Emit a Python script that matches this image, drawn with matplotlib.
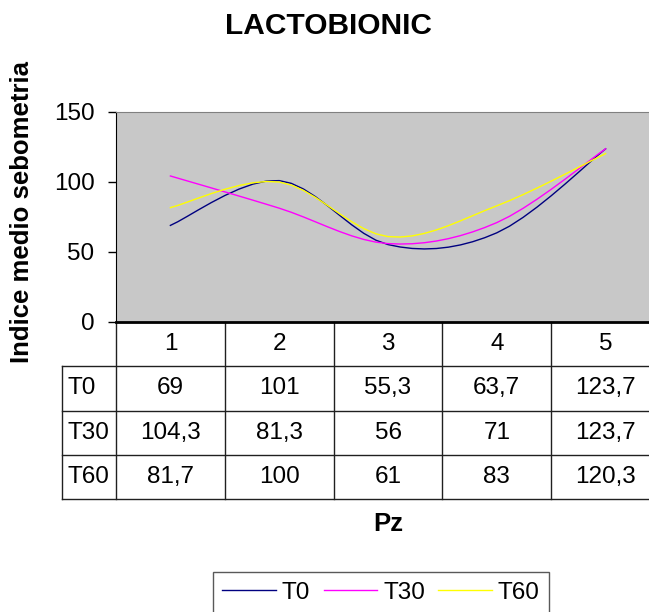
import numpy as np
import matplotlib
matplotlib.use("Agg")
import matplotlib.pyplot as plt
import matplotlib.transforms as mtransforms

plt.rcParams['font.family'] = ['Liberation Sans', 'DejaVu Sans']

# Data (table values)
pz = [1, 2, 3, 4, 5]
series_names = ["T0", "T30", "T60"]
t0 = [69, 101, 55.3, 63.7, 123.7]
t30 = [104.3, 81.3, 56, 71, 123.7]
t60 = [81.7, 100, 61, 83, 120.3]
yticks = [0, 50, 100, 150]

colors = {"T0": "#000080", "T30": "#FF00FF", "T60": "#FFFF00"}


def smooth(x, y, n=10):
    # Excel style "smoothed line": bezier pieces through the points
    x = np.asarray(x, float)
    y = np.asarray(y, float)
    px = np.concatenate([[x[0]], x, [x[-1]]])
    py = np.concatenate([[y[0]], y, [y[-1]]])
    t = np.linspace(0, 1, n)
    xs, ys = [], []
    for i in range(1, len(px) - 2):
        for p, out in ((px, xs), (py, ys)):
            p0, p1, p2, p3 = p[i - 1], p[i], p[i + 1], p[i + 2]
            c1 = p1 + (p2 - p0) / 6
            c2 = p2 - (p3 - p1) / 6
            b = (1 - t) ** 3 * p1 + 3 * (1 - t) ** 2 * t * c1 + 3 * (1 - t) * t ** 2 * c2 + t ** 3 * p2
            out.extend(b if i == 1 else b[1:])
    return xs, ys


def fmt(v):
    if float(v).is_integer():
        return str(int(v))
    return str(v).replace('.', ',')


W, H = 649, 612
fig = plt.figure(figsize=(W / 100, H / 100), dpi=100)
col_w = 108.8
ax = fig.add_axes([116 / W, 1 - 322 / H, 5 * col_w / W, 210 / H])

lines = []
for name, vals in zip(series_names, [t0, t30, t60]):
    xs, ys = smooth(pz, vals)
    ln, = ax.plot(xs, ys, color=colors[name], linewidth=1.0, label=name)
    lines.append(ln)

ax.set_xlim(0.5, 5.5)
ax.set_ylim(0, 150)
ax.set_yticks(yticks)
ax.set_xticks([])
ax.set_facecolor('#c8c8c8')
ax.tick_params(axis='y', direction='out', length=5.5, width=1, pad=10, labelsize=17.5)

ax.spines['left'].set_color('black')
ax.spines['bottom'].set_color('black')
ax.spines['bottom'].set_linewidth(2)
ax.spines['top'].set_color('#808080')
ax.spines['right'].set_visible(False)

# Data table under the plot
trans = mtransforms.blended_transform_factory(ax.transData, ax.transAxes)
row_h = 44.25 / 210
lc = '#202020'
for r in range(1, 5):
    ax.plot([0, 5.5], [-r * row_h, -r * row_h], color=lc, lw=1, transform=trans, clip_on=False)
for c in range(6):
    ax.plot([c + 0.5, c + 0.5], [0, -4 * row_h], color=lc, lw=1, transform=trans, clip_on=False)
ax.plot([0, 0], [-row_h, -4 * row_h], color=lc, lw=1, transform=trans, clip_on=False)

for p in pz:
    ax.text(p, -0.5 * row_h, str(p), ha='center', va='center', fontsize=17.5,
            transform=trans, clip_on=False)
for r, (name, vals) in enumerate(zip(series_names, [t0, t30, t60])):
    yc = -(r + 1.5) * row_h
    ax.text(0.055, yc, name, ha='left', va='center', fontsize=17.5, transform=trans, clip_on=False)
    for p, v in zip(pz, vals):
        ax.text(p, yc, fmt(v), ha='center', va='center', fontsize=17.5,
                transform=trans, clip_on=False)

## Labels
ax.text(0.5, (322 - 524) / 210, 'Pz', ha='center', va='center', fontsize=18.5,
        fontweight='bold', transform=ax.transAxes)
fig.text(22 / W, 1 - 212 / H, 'Indice medio sebometria', rotation=90, ha='center', va='center',
         fontsize=18.5, fontweight='bold')
fig.text(328 / W, 1 - 26 / H, 'LACTOBIONIC', ha='center', va='center', fontsize=21.5,
         fontweight='bold')

## Legend
leg = fig.legend(handles=lines, loc='upper center', bbox_to_anchor=(381 / W, 1 - 572 / H), ncol=3,
                 fontsize=17.5, frameon=True, fancybox=False, handlelength=2.2, handletextpad=0.25,
                 columnspacing=0.55, borderpad=0.4, borderaxespad=0)
leg.get_frame().set_edgecolor('#303030')
leg.get_frame().set_linewidth(1)

fig.savefig('out.png', dpi=100)
